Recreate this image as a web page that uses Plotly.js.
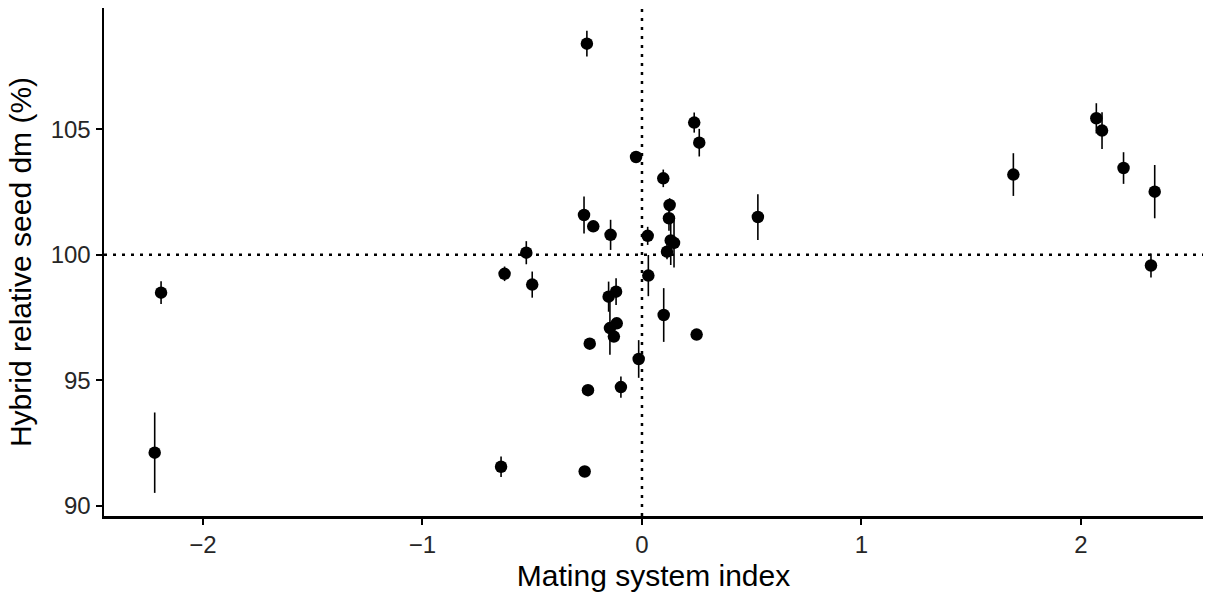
<!DOCTYPE html>
<html>
<head>
<meta charset="utf-8">
<script src="https://cdn.plot.ly/plotly-3.0.1.min.js"></script>
<style>html,body{margin:0;padding:0;background:#fff;}#chart{width:1208px;height:597px;}</style>
</head>
<body>
<div id="chart"></div>
<script>
// Mating system index (x), hybrid relative seed dry matter in % (y), standard error (se)
const matingIndex = [-2.220, -2.191, -0.642, -0.626, -0.527, -0.500, -0.264, -0.261, -0.251, -0.246,
  -0.238, -0.222, -0.152, -0.143, -0.146, -0.128, -0.118, -0.115, -0.096, -0.027,
  -0.015, 0.026, 0.029, 0.097, 0.099, 0.114, 0.123, 0.126, 0.131, 0.146,
  0.238, 0.249, 0.261, 0.528, 1.692, 2.070, 2.096, 2.194, 2.319, 2.336];
const seedDm = [92.12, 98.49, 91.56, 99.24, 100.08, 98.81, 101.58, 91.37, 108.40, 94.61,
  96.46, 101.13, 98.33, 100.79, 97.08, 96.74, 98.53, 97.27, 94.73, 103.89,
  95.85, 100.75, 99.17, 103.04, 97.60, 100.12, 101.45, 101.98, 100.57, 100.47,
  105.26, 96.82, 104.46, 101.50, 103.19, 105.43, 104.94, 103.45, 99.57, 102.51];
const seedSe = [1.60, 0.45, 0.41, 0.29, 0.46, 0.52, 0.74, 0.20, 0.51, 0.15,
  0.15, 0.15, 0.60, 0.60, 1.06, 0.20, 0.53, 0.20, 0.42, 0.15,
  0.75, 0.36, 0.82, 0.35, 1.07, 0.30, 0.50, 0.27, 0.98, 0.98,
  0.40, 0.10, 0.55, 0.91, 0.85, 0.60, 0.73, 0.63, 0.48, 1.06];
const xTicks = [-2, -1, 0, 1, 2];
const yTicks = [90, 95, 100, 105];
const refX = 0;
const refY = 100;

const trace = {
  x: matingIndex, y: seedDm, type: 'scatter', mode: 'markers',
  marker: {color: '#000000', size: 12.5},
  error_y: {type: 'data', array: seedSe, visible: true, color: '#000000', thickness: 1.6, width: 0},
  hoverinfo: 'x+y', showlegend: false
};

const font = 'Liberation Sans, Arial, sans-serif';
const layout = {
  width: 1208, height: 597,
  paper_bgcolor: '#ffffff', plot_bgcolor: '#ffffff',
  margin: {l: 104, r: 5, t: 8, b: 81},
  font: {family: font, color: '#000000'},
  xaxis: {
    range: [-2.451, 2.556], tickvals: xTicks, zeroline: false, showgrid: false,
    showline: true, linecolor: '#000000', linewidth: 2.5,
    ticks: 'outside', ticklen: 6, tickwidth: 2, tickcolor: '#000000',
    tickfont: {family: font, size: 24, color: '#262626'},
    title: {text: 'Mating system index', font: {family: font, size: 30, color: '#000000'}, standoff: 8},
    automargin: false
  },
  yaxis: {
    range: [89.6, 109.82], tickvals: yTicks, zeroline: false, showgrid: false,
    showline: true, linecolor: '#000000', linewidth: 2.5,
    ticks: 'outside', ticklen: 6, tickwidth: 2, tickcolor: '#000000',
    tickfont: {family: font, size: 24, color: '#262626'},
    title: {text: 'Hybrid relative seed dm (%)', font: {family: font, size: 30, color: '#000000'}, standoff: 10},
    automargin: false
  },
  shapes: [
    {type: 'line', xref: 'paper', x0: 0, x1: 1, yref: 'y', y0: refY, y1: refY,
     line: {color: '#000000', width: 2.5, dash: '3px,6px'}, layer: 'below'},
    {type: 'line', xref: 'x', x0: refX, x1: refX, yref: 'paper', y0: 0, y1: 1,
     line: {color: '#000000', width: 2.5, dash: '3px,6px'}, layer: 'below'}
  ]
};

Plotly.newPlot('chart', [trace], layout, {displayModeBar: false, staticPlot: true});
</script>
</body>
</html>
